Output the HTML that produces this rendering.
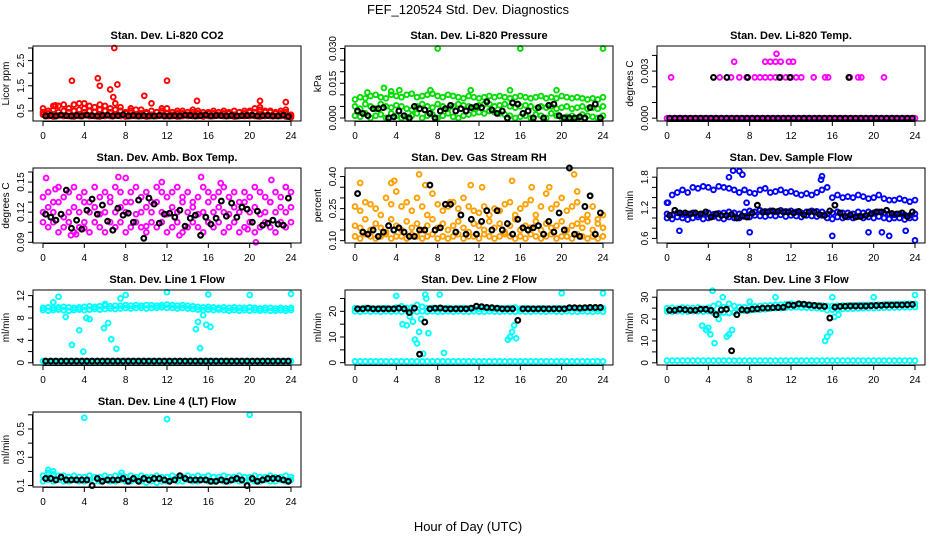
<!DOCTYPE html>
<html><head><meta charset="utf-8">
<style>
html,body{margin:0;padding:0;background:#fff;}
svg{display:block;font-family:"Liberation Sans",sans-serif;}
</style></head>
<body>
<svg id="chart" width="936" height="540" viewBox="0 0 936 540" xmlns="http://www.w3.org/2000/svg">
<text x="468" y="14" text-anchor="middle" font-size="13">FEF_120524  Std. Dev. Diagnostics</text>
<text x="468" y="531" text-anchor="middle" font-size="13">Hour of Day (UTC)</text>
</svg>
<script>
const hoursC=[0,0.5,1,1.5,2,2.5,3,3.5,4,4.5,5,5.5,6,6.5,7,7.5,8,8.5,9,9.5,10,10.5,11,11.5,12,12.5,13,13.5,14,14.5,15,15.5,16,16.5,17,17.5,18,18.5,19,19.5,20,20.5,21,21.5,22,22.5,23,23.5,24];
const hoursB=[0.25,0.75,1.25,1.75,2.25,2.75,3.25,3.75,4.25,4.75,5.25,5.75,6.25,6.75,7.25,7.75,8.25,8.75,9.25,9.75,10.25,10.75,11.25,11.75,12.25,12.75,13.25,13.75,14.25,14.75,15.25,15.75,16.25,16.75,17.25,17.75,18.25,18.75,19.25,19.75,20.25,20.75,21.25,21.75,22.25,22.75,23.25,23.75];
const xTicks=[0,4,8,12,16,20,24];

const co2Lo=[0.35,0.3,0.28,0.32,0.3,0.3,0.28,0.3,0.33,0.3,0.3,0.28,0.3,0.3,0.32,0.3,0.28,0.3,0.3,0.3,0.28,0.3,0.3,0.32,0.3,0.3,0.28,0.3,0.3,0.3,0.3,0.28,0.3,0.3,0.32,0.3,0.3,0.28,0.3,0.3,0.3,0.3,0.28,0.3,0.3,0.3,0.3,0.28,0.25];
const co2Mid=[0.6,0.5,0.55,0.7,0.5,0.6,0.75,0.55,0.6,0.7,0.65,0.75,0.7,0.6,0.8,0.5,0.45,0.5,0.55,0.4,0.45,0.5,0.45,0.5,0.6,0.45,0.4,0.5,0.45,0.55,0.4,0.45,0.4,0.5,0.45,0.4,0.45,0.5,0.45,0.4,0.5,0.45,0.55,0.5,0.45,0.4,0.5,0.55,0.35];
const co2Hi=[0.45,0.4,0.7,0.45,0.75,0.45,0.5,0.8,0.45,0.5,0.45,0.55,0.5,0.45,0.55,0.65,0.4,0.6,0.35,0.55,0.4,0.35,0.45,0.6,0.4,0.35,0.5,0.4,0.35,0.45,0.5,0.35,0.45,0.4,0.35,0.5,0.4,0.35,0.45,0.5,0.45,0.6,0.65,0.45,0.5,0.45,0.4,0.45,0.3];
const co2OutT=[2.8,5.3,5.5,6.5,6.8,6.9,7.2,9.8,12,14.9,21,23.5,4,10.5,3,1.2];
const co2OutV=[1.7,1.8,1.5,1.35,1.05,3.0,1.55,1.1,1.7,0.9,0.9,0.85,0.8,0.8,0.75,0.72];
const co2Blk=[0.3,0.32,0.3,0.33,0.31,0.3,0.32,0.3,0.33,0.31,0.3,0.32,0.33,0.3,0.31,0.35,0.3,0.32,0.3,0.31,0.3,0.3,0.32,0.3,0.3,0.31,0.3,0.33,0.32,0.3,0.31,0.34,0.3,0.32,0.31,0.3,0.32,0.3,0.31,0.32,0.33,0.3,0.31,0.32,0.3,0.3,0.33,0.28];

const presLo=[0.001,0.0005,0.002,0,0.001,0.0015,0,0.002,0.001,0,0.0005,0.001,0.002,0,0.001,0.0015,0,0.001,0.002,0.0005,0,0.001,0.0015,0.002,0.0025,0.002,0.003,0.0025,0.002,0.0015,0.001,0,0.0005,0.001,0,0.0015,0.001,0,0.002,0.001,0,0.0005,0.001,0,0.0015,0.001,0.0005,0,0.001];
const presMid=[0.005,0.004,0.006,0.005,0.004,0.006,0.005,0.0045,0.0055,0.005,0.004,0.0035,0.005,0.006,0.005,0.0045,0.006,0.005,0.004,0.005,0.006,0.0055,0.005,0.0045,0.0055,0.006,0.006,0.005,0.0055,0.006,0.005,0.0045,0.005,0.0055,0.005,0.004,0.005,0.0045,0.005,0.004,0.0045,0.005,0.004,0.0045,0.005,0.004,0.0045,0.004,0.005];
const presHi=[0.008,0.009,0.0085,0.0095,0.01,0.009,0.0085,0.01,0.0095,0.009,0.01,0.0105,0.009,0.0095,0.01,0.0105,0.0095,0.009,0.01,0.0095,0.009,0.0085,0.0095,0.009,0.0085,0.009,0.0095,0.009,0.0095,0.009,0.0085,0.009,0.0095,0.009,0.0085,0.009,0.0095,0.0085,0.009,0.0085,0.0095,0.009,0.0085,0.009,0.0085,0.008,0.0085,0.008,0.009];
const presOutT=[8,16,24,2.8,4.3,7.3,11.2,15,19.5,1.2,3.5];
const presOutV=[0.030,0.030,0.030,0.013,0.012,0.012,0.012,0.012,0.012,0.011,0.0115];
const presBlk=[0.003,0.002,0.001,0.004,0.004,0.0045,0,0.0005,0.003,0.001,0,0.005,0.004,0.0035,0.002,0,0.003,0.004,0.0055,0.003,0.004,0.003,0.0045,0.005,0.0045,0.007,0.0035,0.002,0.003,0,0.0065,0.006,0.002,0.003,0,0.0045,0,0.0055,0.006,0.001,0,0,0,0.0005,0,0.0045,0.006,0];

const tempLo=[0,0,0,0,0,0,0,0,0,0,0,0,0,0,0,0,0,0,0,0,0,0,0,0,0,0,0,0,0,0,0,0,0,0,0,0,0,0,0,0,0,0,0,0,0,0,0,0,0];
const tempOutT=[0.4,5.1,6.2,7.0,7.7,8.5,9.0,9.5,10,10.5,11,11.5,12,12.5,13,14.2,15.3,15.6,17.7,18.5,18.8,21,6.5,9.5,10,10.5,11,11.8,12.2,10.6];
const tempOutV=[0.0026,0.0026,0.0026,0.0026,0.0026,0.0026,0.0026,0.0026,0.0026,0.0026,0.0026,0.0026,0.0026,0.0026,0.0026,0.0026,0.0026,0.0026,0.0026,0.0026,0.0026,0.0026,0.0036,0.0036,0.0036,0.0036,0.0036,0.0036,0.0036,0.0041];
const tempBlk=[0,0,0,0,0,0,0,0,0,0,0,0,0,0,0,0,0,0,0,0,0,0,0,0,0,0,0,0,0,0,0,0,0,0,0,0,0,0,0,0,0,0,0,0,0,0,0,0];
const tempBlkT=[4.5,5.8,7.8,10.9,11.9,17.6];
const tempBlkV=[0.0026,0.0026,0.0026,0.0026,0.0026,0.0026];

const ambLo=[0.11,0.105,0.11,0.1,0.105,0.11,0.1,0.105,0.11,0.1,0.11,0.105,0.1,0.11,0.105,0.11,0.1,0.105,0.11,0.105,0.1,0.11,0.105,0.11,0.1,0.105,0.11,0.1,0.105,0.11,0.105,0.1,0.11,0.105,0.11,0.1,0.105,0.11,0.1,0.105,0.11,0.1,0.105,0.11,0.105,0.1,0.11,0.105,0.11];
const ambMid=[0.12,0.125,0.12,0.13,0.115,0.12,0.125,0.12,0.13,0.12,0.125,0.118,0.12,0.13,0.12,0.125,0.12,0.13,0.118,0.12,0.125,0.12,0.13,0.12,0.118,0.125,0.12,0.13,0.12,0.125,0.118,0.12,0.13,0.12,0.125,0.12,0.118,0.125,0.12,0.13,0.12,0.125,0.118,0.12,0.13,0.12,0.125,0.12,0.125];
const ambHi=[0.135,0.14,0.13,0.145,0.135,0.14,0.145,0.135,0.14,0.13,0.145,0.135,0.14,0.135,0.145,0.14,0.13,0.14,0.145,0.135,0.14,0.13,0.145,0.14,0.135,0.14,0.145,0.135,0.14,0.13,0.135,0.145,0.14,0.135,0.14,0.145,0.135,0.14,0.13,0.14,0.135,0.145,0.14,0.135,0.13,0.14,0.135,0.145,0.14];
const ambOutT=[0.3,1.2,2.7,3.2,4.0,7.3,8.0,10,11.5,13.2,15.3,17.2,19.8,20.6,22.1,23.5];
const ambOutV=[0.154,0.143,0.097,0.098,0.104,0.155,0.154,0.106,0.15,0.097,0.155,0.149,0.103,0.09,0.152,0.145];
const ambBlk=[0.118,0.115,0.112,0.118,0.142,0.104,0.112,0.103,0.122,0.133,0.118,0.127,0.111,0.102,0.124,0.117,0.119,0.11,0.132,0.094,0.134,0.128,0.109,0.118,0.119,0.115,0.122,0.106,0.114,0.117,0.097,0.115,0.108,0.114,0.131,0.116,0.129,0.115,0.125,0.123,0.11,0.121,0.107,0.109,0.112,0.108,0.107,0.134];

const rhLo=[0.12,0.11,0.13,0.12,0.11,0.12,0.13,0.11,0.12,0.12,0.11,0.13,0.12,0.11,0.12,0.13,0.11,0.12,0.11,0.12,0.13,0.11,0.12,0.12,0.11,0.13,0.12,0.11,0.12,0.13,0.12,0.11,0.12,0.11,0.13,0.12,0.11,0.12,0.13,0.11,0.12,0.12,0.11,0.13,0.12,0.11,0.12,0.11,0.12];
const rhMid=[0.17,0.16,0.2,0.15,0.18,0.16,0.14,0.2,0.17,0.15,0.19,0.16,0.18,0.15,0.17,0.2,0.16,0.18,0.15,0.17,0.19,0.16,0.14,0.18,0.17,0.15,0.19,0.16,0.18,0.14,0.17,0.2,0.15,0.17,0.16,0.19,0.15,0.18,0.16,0.17,0.19,0.15,0.17,0.18,0.16,0.19,0.15,0.18,0.16];
const rhHi=[0.26,0.24,0.28,0.27,0.25,0.22,0.3,0.27,0.33,0.26,0.28,0.24,0.3,0.26,0.22,0.32,0.27,0.24,0.26,0.28,0.25,0.3,0.26,0.24,0.23,0.26,0.22,0.25,0.24,0.27,0.28,0.22,0.25,0.27,0.29,0.22,0.26,0.32,0.25,0.27,0.3,0.24,0.26,0.28,0.2,0.22,0.26,0.2,0.22];
const rhOutT=[0.5,3.5,3.8,6.2,6.8,9.2,11.2,12.3,15.2,17.1,18.8,21.2,21.5];
const rhOutV=[0.37,0.37,0.38,0.41,0.36,0.28,0.36,0.35,0.38,0.35,0.35,0.41,0.33];
const rhBlk=[0.32,0.14,0.13,0.15,0.12,0.14,0.17,0.15,0.16,0.14,0.12,0.12,0.15,0.15,0.36,0.15,0.16,0.27,0.27,0.14,0.22,0.13,0.2,0.13,0.19,0.24,0.15,0.24,0.15,0.18,0.13,0.2,0.16,0.15,0.16,0.17,0.13,0.19,0.14,0.23,0.15,0.44,0.13,0.12,0.26,0.31,0.13,0.23];

const flowLo=[1.0,0.98,1.02,1.0,0.97,1.0,1.02,0.98,1.0,1.03,1.0,0.98,1.02,1.0,1.0,1.03,1.02,1.05,1.04,1.03,1.05,1.04,1.06,1.03,1.05,1.04,1.02,1.05,1.04,1.03,1.05,1.0,0.98,1.02,1.0,1.02,1.0,1.03,1.0,1.02,1.0,1.03,1.0,0.98,1.0,1.0,0.97,1.0,1.0];
const flowMid=[1.08,1.06,1.1,1.07,1.08,1.1,1.06,1.08,1.1,1.07,1.09,1.1,1.12,1.1,1.08,1.12,1.14,1.12,1.15,1.13,1.14,1.12,1.15,1.13,1.14,1.12,1.1,1.12,1.14,1.13,1.12,1.08,1.1,1.12,1.1,1.1,1.08,1.12,1.1,1.12,1.1,1.12,1.1,1.08,1.06,1.08,1.06,1.05,1.08];
const flowHi=[1.3,1.45,1.5,1.55,1.5,1.6,1.58,1.62,1.6,1.55,1.62,1.6,1.58,1.55,1.5,1.55,1.5,1.48,1.55,1.58,1.5,1.52,1.55,1.5,1.52,1.48,1.45,1.48,1.45,1.5,1.55,1.6,1.4,1.45,1.4,1.42,1.4,1.45,1.42,1.38,1.4,1.45,1.38,1.35,1.35,1.38,1.35,1.32,1.35];
const flowOutT=[0.1,1.2,6.0,6.4,7.0,7.3,7.7,8.0,14.9,15.0,16.0,19.5,20.8,21.5,23.1,24];
const flowOutV=[1.3,0.75,1.8,1.93,1.92,1.85,1.3,0.72,1.75,1.82,0.65,0.72,0.72,0.65,0.75,0.56];
const flowBlk=[1.05,1.15,1.1,1.1,1.08,1.1,1.08,1.12,1.02,1.08,1.05,1.05,1.07,1.0,1.04,1.02,1.1,1.25,1.12,1.12,1.14,1.13,1.12,1.12,1.1,1.13,1.06,1.12,1.12,1.07,1.05,1.14,1.25,1.1,1.03,1.06,1.02,1.03,1.05,1.08,1.12,1.12,1.15,1.09,1.08,1.1,1.03,1.12];

const l1Lo=[0.3,0.3,0.3,0.3,0.3,0.3,0.3,0.3,0.3,0.3,0.3,0.3,0.3,0.3,0.3,0.3,0.3,0.3,0.3,0.3,0.3,0.3,0.3,0.3,0.3,0.3,0.3,0.3,0.3,0.3,0.3,0.3,0.3,0.3,0.3,0.3,0.3,0.3,0.3,0.3,0.3,0.3,0.3,0.3,0.3,0.3,0.3,0.3,0.3];
const l1Mid=[9.4,9.3,9.4,9.5,9.4,9.3,9.4,9.5,9.4,9.5,9.6,9.5,9.6,9.7,9.6,9.7,9.8,9.7,9.8,9.8,9.7,9.8,9.8,9.9,9.8,9.8,9.7,9.8,9.7,9.6,9.5,9.4,9.5,9.4,9.5,9.4,9.3,9.4,9.3,9.4,9.3,9.4,9.3,9.4,9.3,9.3,9.4,9.3,9.4];
const l1Hi=[9.8,9.9,9.8,9.9,10,9.9,9.8,9.9,10,10.1,10,10.1,10.2,10.1,10.2,10.2,10.3,10.2,10.3,10.2,10.3,10.3,10.2,10.3,10.4,10.3,10.2,10.3,10.2,10.1,10,9.9,10,9.9,9.8,9.9,9.8,9.9,9.8,9.8,9.9,9.8,9.7,9.8,9.8,9.7,9.8,9.7,9.8];
const l1OutT=[1.0,1.5,2.2,2.8,3.5,3.9,4.2,4.5,5.9,6.0,6.3,6.6,7.1,7.5,8.0,12.0,14.8,15.0,15.2,15.5,15.8,16.0,16.2,20.0,24.0];
const l1OutV=[10.8,11.8,8.2,3.2,5.8,2,8,7.8,6.2,10.5,7.1,4.2,2.5,11.5,12.1,12.6,6,7.3,2.6,8.5,6.8,12.2,6.4,12.1,12.3];
const l1Blk=[0.3,0.3,0.3,0.3,0.3,0.3,0.3,0.3,0.3,0.3,0.3,0.3,0.3,0.3,0.3,0.3,0.3,0.3,0.3,0.3,0.3,0.3,0.3,0.3,0.3,0.3,0.3,0.3,0.3,0.3,0.3,0.3,0.3,0.3,0.3,0.3,0.3,0.3,0.3,0.3,0.3,0.3,0.3,0.3,0.3,0.3,0.3,0.3];

const l2Lo=[0.5,0.5,0.5,0.5,0.5,0.5,0.5,0.5,0.5,0.5,0.5,0.5,0.5,0.5,0.5,0.5,0.5,0.5,0.5,0.5,0.5,0.5,0.5,0.5,0.5,0.5,0.5,0.5,0.5,0.5,0.5,0.5,0.5,0.5,0.5,0.5,0.5,0.5,0.5,0.5,0.5,0.5,0.5,0.5,0.5,0.5,0.5,0.5,0.5];
const l2Mid=[20,19.8,20,19.9,20,19.8,20,19.9,20,19.8,20.2,20,19.8,20,19.9,20,19.8,19.9,20,19.8,20,19.9,19.8,20,19.9,19.8,20,19.9,19.8,20,19.9,19.8,20,19.9,19.8,20,19.9,19.8,20,19.9,19.8,20,19.9,19.8,20,19.9,19.8,20,19.9];
const l2Hi=[21.2,21,21.3,21.1,21,21.2,21.3,21,21.5,22,21.3,21.5,22.5,21.8,21.2,21.3,21,21.2,21.3,21,21.2,21.3,21.1,21.2,21,21.2,21.1,21,21.2,21.1,21.3,21.5,21,21.2,21.1,21,21.2,21.1,21,21.2,21.1,21,21.2,21.1,21,21.2,21.1,21,21.2];
const l2OutT=[4.0,4.6,5.0,5.3,5.6,5.8,6.0,6.2,6.4,6.6,6.9,7.1,8.2,8.6,14.8,15.0,15.2,15.4,15.6,20.0,24.0,6.8];
const l2OutV=[26,15,14.5,18,16,9,7.5,12,17,3.5,25,11.5,26.5,3.8,9,10,12,14.5,9.5,27,27,26.5];
const l2Blk=[21,21,21.2,21,21,21,21,21,21.2,21,19.5,21.2,3.3,15.8,21,21.2,21.3,21,21,21,21,21,21.2,22,21.8,21.5,21.4,21.2,21,21,21,16.5,21,21,21,21,21,21,21,21,21,21.4,21.4,21.3,21.4,21.5,21.5,21.5];

const l3Lo=[1,1,1,1,1,1,1,1,1,1,1,1,1,1,1,1,1,1,1,1,1,1,1,1,1,1,1,1,1,1,1,1,1,1,1,1,1,1,1,1,1,1,1,1,1,1,1,1,1];
const l3Mid=[23.5,23.4,23.6,23.5,23.4,23.6,23.5,23.4,23.6,23,22.5,23,22.8,23,23.5,23.8,24,24.2,24.3,24.5,24.8,25,25,25.2,25.3,25.4,25.3,25.2,25.1,25,24.8,24,24.3,24.5,24.6,24.7,24.8,24.9,25,25,25,25.1,25.2,25.2,25.3,25.3,25.4,25.4,25.5];
const l3Hi=[25,25.2,24.8,25.3,25.2,25,25.3,24.8,25.2,26,27,25.5,27,26,25.5,25.4,25.6,25.8,26,26.2,26.3,26.5,26.6,26.8,27,26.8,26.7,26.5,26.4,26.3,26.2,26,26,26.1,26.2,26.2,26.3,26.4,26.5,26.5,26.6,26.6,26.7,26.8,26.8,26.9,27,27,27];
const l3OutT=[3.4,3.8,4.0,4.2,4.4,4.6,5.0,5.4,5.8,6.0,6.3,8.0,10.5,15.3,15.5,15.8,16.0,16.2,16.6,20.0,24.0];
const l3OutV=[17,15,16,13,33,9,20,30,12,13,15,28,30,10,12,14,30,21,22,30,31];
const l3Blk=[24,24,24.5,24.3,24,24,24.5,24.5,24,22,24.2,24.5,5.5,22,24.3,24,24.5,24.7,25,25,25.2,25.3,25.4,26.5,26.3,27,26.8,26.5,26.2,26,25.8,20.5,25.5,25.8,25.9,26,26,26,26,26.1,26.2,26.3,26.4,26.4,26.5,26.5,26.6,26.7];

const l4Lo=[0.13,0.14,0.13,0.14,0.13,0.13,0.14,0.13,0.13,0.14,0.13,0.13,0.14,0.13,0.13,0.14,0.13,0.13,0.14,0.13,0.12,0.13,0.12,0.13,0.13,0.14,0.13,0.13,0.14,0.13,0.13,0.14,0.13,0.13,0.14,0.13,0.13,0.14,0.13,0.13,0.14,0.13,0.13,0.14,0.13,0.13,0.14,0.13,0.14];
const l4Hi=[0.17,0.19,0.18,0.17,0.17,0.16,0.17,0.16,0.16,0.17,0.16,0.16,0.17,0.16,0.17,0.17,0.16,0.17,0.16,0.17,0.16,0.16,0.17,0.16,0.16,0.17,0.16,0.16,0.17,0.16,0.17,0.16,0.17,0.16,0.16,0.17,0.16,0.16,0.17,0.16,0.16,0.17,0.16,0.16,0.17,0.16,0.16,0.17,0.16];
const l4OutT=[4,12,20,0.5,1.0,7.6];
const l4OutV=[0.58,0.57,0.6,0.21,0.2,0.19];
const l4Blk=[0.15,0.15,0.14,0.16,0.14,0.14,0.14,0.14,0.14,0.1,0.15,0.13,0.14,0.14,0.14,0.15,0.13,0.15,0.13,0.15,0.14,0.15,0.15,0.14,0.13,0.14,0.17,0.15,0.14,0.14,0.14,0.14,0.13,0.13,0.14,0.13,0.14,0.15,0.14,0.1,0.15,0.13,0.14,0.15,0.15,0.15,0.14,0.13];

const panels=[
 {name:'co2',title:'Stan. Dev. Li-820 CO2',ylab:'Licor ppm',col:0,row:0,yr:[0.10,3.08],ticks:[0.5,1,1.5,2,2.5,3],labels:['0.5','1.5','2.5'],color:'#ff0000',series:[co2Lo,co2Mid,co2Hi],outT:co2OutT,outV:co2OutV,blk:co2Blk},
 {name:'pressure',title:'Stan. Dev. Li-820 Pressure',ylab:'kPa',col:1,row:0,yr:[-0.0013,0.0311],ticks:[0,0.005,0.01,0.015,0.02,0.025,0.03],labels:['0.000','0.015','0.030'],color:'#00dd00',series:[presLo,presMid,presHi],outT:presOutT,outV:presOutV,blk:presBlk},
 {name:'li820-temp',title:'Stan. Dev. Li-820 Temp.',ylab:'degrees C',col:2,row:0,yr:[-0.00018,0.0046],ticks:[0,0.001,0.002,0.003,0.004],labels:['0.000','0.003'],color:'#ff00ff',series:[tempLo],outT:tempOutT,outV:tempOutV,blk:tempBlk,bT:tempBlkT,bV:tempBlkV},
 {name:'amb-box-temp',title:'Stan. Dev. Amb. Box Temp.',ylab:'degrees C',col:0,row:1,yr:[0.0893,0.164],ticks:[0.09,0.1,0.11,0.12,0.13,0.14,0.15,0.16],labels:['0.09','0.12','0.15'],color:'#ff00ff',series:[ambLo,ambMid,ambHi],outT:ambOutT,outV:ambOutV,blk:ambBlk},
 {name:'gas-stream-rh',title:'Stan. Dev. Gas Stream RH',ylab:'percent',col:1,row:1,yr:[0.089,0.44],ticks:[0.1,0.15,0.2,0.25,0.3,0.35,0.4],labels:['0.10','0.25','0.40'],color:'#ffa000',series:[rhLo,rhMid,rhHi],outT:rhOutT,outV:rhOutV,blk:rhBlk},
 {name:'sample-flow',title:'Stan. Dev. Sample Flow',ylab:'ml/min',col:2,row:1,yr:[0.51,1.98],ticks:[0.6,0.8,1,1.2,1.4,1.6,1.8],labels:['0.6','1.2','1.8'],color:'#0000ff',series:[flowLo,flowMid,flowHi],outT:flowOutT,outV:flowOutV,blk:flowBlk},
 {name:'line1-flow',title:'Stan. Dev. Line 1 Flow',ylab:'ml/min',col:0,row:2,yr:[-0.4,13.0],ticks:[0,2,4,6,8,10,12],labels:['0','4','8','12'],color:'#00ffff',series:[l1Lo,l1Mid,l1Hi],outT:l1OutT,outV:l1OutV,blk:l1Blk},
 {name:'line2-flow',title:'Stan. Dev. Line 2 Flow',ylab:'ml/min',col:1,row:2,yr:[-0.9,28.3],ticks:[0,5,10,15,20,25],labels:['0','10','20'],color:'#00ffff',series:[l2Lo,l2Mid,l2Hi],outT:l2OutT,outV:l2OutV,blk:l2Blk},
 {name:'line3-flow',title:'Stan. Dev. Line 3 Flow',ylab:'ml/min',col:2,row:2,yr:[-1.0,33.3],ticks:[0,5,10,15,20,25,30],labels:['0','10','20','30'],color:'#00ffff',series:[l3Lo,l3Mid,l3Hi],outT:l3OutT,outV:l3OutV,blk:l3Blk},
 {name:'line4-flow',title:'Stan. Dev. Line 4 (LT) Flow',ylab:'ml/min',col:0,row:3,yr:[0.09,0.62],ticks:[0.1,0.2,0.3,0.4,0.5,0.6],labels:['0.1','0.3','0.5'],color:'#00ffff',series:[l4Lo,l4Hi],outT:l4OutT,outV:l4OutV,blk:l4Blk}
];

const NS='http://www.w3.org/2000/svg';
const svg=document.getElementById('chart');
const colLeft=[33,345,657], rowTop=[46,168,290,412], W=268, H=75;
function mk(tag,attrs,parent){const e=document.createElementNS(NS,tag);for(const k in attrs)e.setAttribute(k,attrs[k]);parent.appendChild(e);return e;}

panels.forEach(p=>{
  const L=colLeft[p.col], T=rowTop[p.row], B=T+H;
  const xs=t=>L+10+t/24*248;
  const ys=v=>B-(v-p.yr[0])/(p.yr[1]-p.yr[0])*H;
  const g=mk('g',{},svg);
  
  
  const ttl=mk('text',{x:L+W/2,y:T-7,'text-anchor':'middle','font-size':'11','font-weight':'bold'},g);
  ttl.textContent=p.title;
  
  
  const pts=mk('g',{fill:'none'},g);
  
  
  const ring=(t,v,c,sw)=>{const v2=Math.max(p.yr[0],Math.min(p.yr[1],v));const r=mk('circle',{cx:xs(t).toFixed(1),cy:ys(v2).toFixed(1),r:2.4,stroke:c,'stroke-width':sw},pts);
    
    };
  p.series.forEach(s=>s.forEach((v,i)=>ring(hoursC[i],v,p.color,1.9)));
  p.outT.forEach((t,i)=>ring(t,p.outV[i],p.color,1.9));
  p.blk.forEach((v,i)=>ring(hoursB[i],v,'#000',2.1));
  if(p.bT) p.bT.forEach((t,i)=>ring(t,p.bV[i],'#000',2.1));
  const box=mk('rect',{x:L,y:T,width:W,height:H,fill:'none',stroke:'#000','stroke-width':'1'},g);
  
  
  const xa=mk('g',{stroke:'#000','stroke-width':'1'},g);
  
  
  mk('line',{x1:xs(0),x2:xs(24),y1:B+0.5,y2:B+0.5},xa);
  xTicks.forEach(t=>{mk('line',{x1:xs(t),x2:xs(t),y1:B,y2:B+5},xa);
    const tx=mk('text',{x:xs(t),y:B+18,'text-anchor':'middle','font-size':'10',stroke:'none',fill:'#000'},xa);tx.textContent=t;
    
    });
  const ya=mk('g',{stroke:'#000','stroke-width':'1'},g);
  
  
  mk('line',{x1:L-0.5,x2:L-0.5,y1:ys(p.ticks[0]),y2:ys(p.ticks[p.ticks.length-1])},ya);
  p.ticks.forEach(v=>{mk('line',{x1:L-5,x2:L,y1:ys(v),y2:ys(v)},ya);});
  p.labels.forEach(s=>{const y=ys(parseFloat(s));const tx=mk('text',{x:0,y:0,transform:`translate(${L-9},${y}) rotate(-90)`,'text-anchor':'middle','font-size':'10',stroke:'none',fill:'#000'},ya);tx.textContent=s;
    
    });
  const yl=mk('text',{x:0,y:0,transform:`translate(${L-24},${T+H/2}) rotate(-90)`,'text-anchor':'middle','font-size':'10'},g);
  yl.textContent=p.ylab;
  
  
});
</script>
</body></html>
